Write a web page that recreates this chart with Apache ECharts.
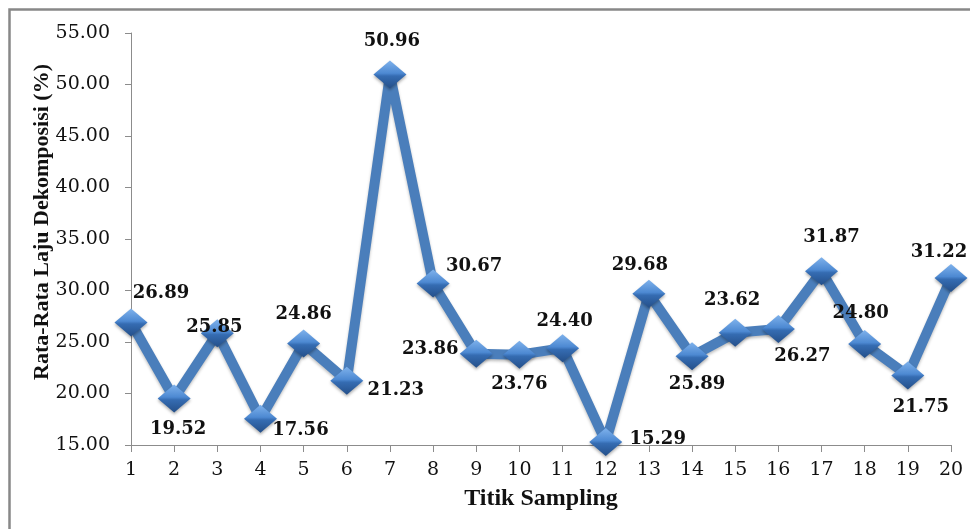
<!DOCTYPE html>
<html>
<head>
<meta charset="utf-8">
<script src="https://cdn.jsdelivr.net/npm/echarts@6/dist/echarts.min.js"></script>
<style>
html,body{margin:0;padding:0;background:#fff;}
#chart{width:970px;height:529px;}
</style>
</head>
<body>
<div id="chart"></div>
<script>
// ---- data ----
const categories = ['1','2','3','4','5','6','7','8','9','10','11','12','13','14','15','16','17','18','19','20'];
const values = [26.89, 19.52, 25.85, 17.56, 24.86, 21.23, 50.96, 30.67, 23.86, 23.76, 24.40, 15.29, 29.68, 23.62, 25.89, 26.27, 31.87, 24.80, 21.75, 31.22];
// label texts as printed on the chart (points 14 and 15 show swapped texts)
const labelTexts = ['26.89','19.52','25.85','17.56','24.86','21.23','50.96','30.67','23.86','23.76','24.40','15.29','29.68','25.89','23.62','26.27','31.87','24.80','21.75','31.22'];
const yTicks = {min: 15, max: 55, interval: 5};
const xTitle = 'Titik Sampling';
const yTitle = 'Rata-Rata Laju Dekomposisi (%)';

// ---- styling ----
const labelOffsets = [[30,-29],[4,31],[-3,-6],[40,12],[0,-29],[49,9],[2,-33],[41,-17],[-46,-4],[0,30],
                      [2,-27],[52,-3],[-9,-28],[5,28],[-3,-33],[24,27],[10,-34],[-4,-31],[13,32],[-12,-26]];
const numFont = 'DejaVu Serif';
const titleFont = 'Liberation Serif';
const axisColor = '#8c8c8c';

const chart = echarts.init(document.getElementById('chart'), null, {renderer: 'canvas'});

const seriesData = values.map((v, i) => ({
  value: v,
  label: {formatter: labelTexts[i], offset: labelOffsets[i]}
}));

chart.setOption({
  animation: false,
  backgroundColor: '#ffffff',
  grid: {left: 131, right: 19, top: 33, bottom: 84},
  graphic: [
    {type: 'rect', shape: {x: 9.5, y: 9.5, width: 1100, height: 1100},
     style: {fill: 'none', stroke: '#888888', lineWidth: 2.5}, silent: true, z: -1},
    {type: 'text', x: 42, y: 222, rotation: Math.PI / 2,
     style: {text: yTitle, fontFamily: titleFont, fontWeight: 'bold', fontSize: 22,
             fill: '#111', align: 'center', verticalAlign: 'middle'}}
  ],
  xAxis: {
    type: 'category',
    data: categories,
    boundaryGap: false,
    name: xTitle,
    nameLocation: 'middle',
    nameGap: 42,
    nameTextStyle: {fontFamily: titleFont, fontWeight: 'bold', fontSize: 24, color: '#111'},
    axisLine: {lineStyle: {color: axisColor, width: 1}},
    axisTick: {show: true, length: 7, lineStyle: {color: axisColor}},
    axisLabel: {fontFamily: numFont, fontSize: 19, color: '#111', margin: 16},
    splitLine: {show: false}
  },
  yAxis: {
    type: 'value',
    min: yTicks.min,
    max: yTicks.max,
    interval: yTicks.interval,
    axisLine: {show: true, lineStyle: {color: axisColor, width: 1}},
    axisTick: {show: true, length: 6, lineStyle: {color: axisColor}},
    axisLabel: {fontFamily: numFont, fontSize: 19, color: '#111', margin: 21,
                formatter: v => v.toFixed(2)},
    splitLine: {show: false}
  },
  series: [{
    type: 'line',
    data: seriesData,
    symbol: 'diamond',
    symbolSize: [33, 28],
    lineStyle: {color: '#4a7ebb', width: 10, shadowColor: 'rgba(0,0,0,0.25)', shadowBlur: 3, shadowOffsetY: 2},
    itemStyle: {
      color: new echarts.graphic.LinearGradient(0, 0, 0, 1, [
        {offset: 0, color: '#7fb2ec'},
        {offset: 0.45, color: '#4d89d2'},
        {offset: 0.55, color: '#356cb2'},
        {offset: 1, color: '#244f89'}
      ]),
      borderWidth: 0,
      shadowColor: 'rgba(0,0,0,0.3)', shadowBlur: 3, shadowOffsetY: 2
    },
    label: {
      show: true,
      position: 'inside',
      fontFamily: numFont,
      fontWeight: 'bold',
      fontSize: 18,
      color: '#111'
    },
    z: 3
  }]
});
</script>
</body>
</html>
